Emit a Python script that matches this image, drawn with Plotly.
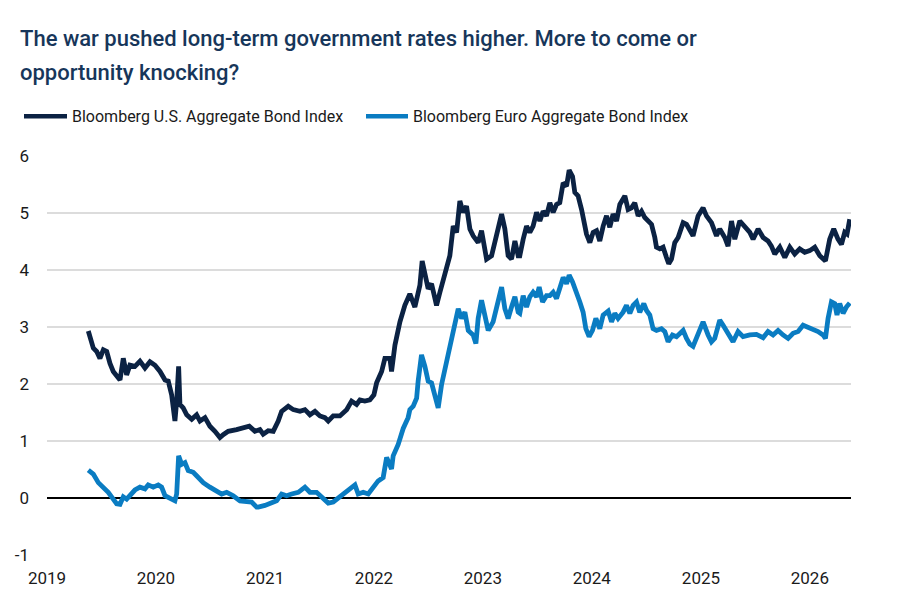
import pandas as pd
import plotly.graph_objects as go

# ---- data (decimal years, yield %) ----
us_t = [2019.379, 2019.410, 2019.425, 2019.456, 2019.486, 2019.517, 2019.548, 2019.578, 2019.608, 2019.670,
        2019.700, 2019.731, 2019.761, 2019.807, 2019.853, 2019.899, 2019.945, 2019.991, 2020.037, 2020.083,
        2020.113, 2020.144, 2020.174, 2020.190, 2020.208, 2020.220, 2020.250, 2020.282, 2020.328, 2020.373,
        2020.404, 2020.450, 2020.495, 2020.541, 2020.587, 2020.617, 2020.663, 2020.740, 2020.801, 2020.856,
        2020.908, 2020.954, 2020.984, 2021.030, 2021.076, 2021.122, 2021.153, 2021.214, 2021.260, 2021.321,
        2021.367, 2021.413, 2021.459, 2021.505, 2021.550, 2021.581, 2021.627, 2021.688, 2021.750, 2021.795,
        2021.841, 2021.872, 2021.917, 2021.963, 2022.000, 2022.025, 2022.071, 2022.101, 2022.147, 2022.162,
        2022.193, 2022.239, 2022.284, 2022.330, 2022.376, 2022.422, 2022.443, 2022.468, 2022.498, 2022.529,
        2022.575, 2022.606, 2022.651, 2022.697, 2022.728, 2022.759, 2022.789, 2022.819, 2022.850, 2022.881,
        2022.911, 2022.957, 2022.988, 2023.034, 2023.080, 2023.126, 2023.172, 2023.202, 2023.232, 2023.263,
        2023.294, 2023.324, 2023.339, 2023.370, 2023.401, 2023.431, 2023.461, 2023.493, 2023.523, 2023.553,
        2023.584, 2023.615, 2023.645, 2023.676, 2023.706, 2023.737, 2023.768, 2023.792, 2023.823, 2023.844,
        2023.874, 2023.906, 2023.936, 2023.951, 2023.982, 2024.012, 2024.043, 2024.073, 2024.104, 2024.135,
        2024.165, 2024.195, 2024.227, 2024.257, 2024.303, 2024.333, 2024.364, 2024.394, 2024.425, 2024.456,
        2024.486, 2024.517, 2024.548, 2024.578, 2024.593, 2024.624, 2024.654, 2024.685, 2024.706, 2024.731,
        2024.761, 2024.792, 2024.823, 2024.838, 2024.869, 2024.929, 2024.975, 2025.021, 2025.052, 2025.098,
        2025.144, 2025.174, 2025.220, 2025.250, 2025.282, 2025.312, 2025.358, 2025.404, 2025.450, 2025.480,
        2025.526, 2025.572, 2025.617, 2025.648, 2025.679, 2025.725, 2025.771, 2025.817, 2025.862, 2025.908,
        2025.954, 2026.000, 2026.046, 2026.092, 2026.144, 2026.183, 2026.220, 2026.259, 2026.291, 2026.321,
        2026.342, 2026.367]
us_v = [2.93, 2.74, 2.63, 2.57, 2.45, 2.60, 2.57, 2.36, 2.22, 2.07,
        2.45, 2.16, 2.33, 2.31, 2.40, 2.28, 2.39, 2.33, 2.22, 2.07,
        2.05, 1.81, 1.35, 1.70, 2.31, 1.64, 1.58, 1.46, 1.38, 1.46,
        1.35, 1.41, 1.26, 1.17, 1.06, 1.11, 1.17, 1.20, 1.23, 1.26,
        1.17, 1.20, 1.12, 1.18, 1.17, 1.35, 1.52, 1.61, 1.55, 1.52,
        1.55, 1.46, 1.52, 1.44, 1.41, 1.35, 1.44, 1.44, 1.55, 1.70,
        1.64, 1.72, 1.70, 1.72, 1.81, 2.02, 2.22, 2.45, 2.45, 2.22,
        2.68, 3.09, 3.38, 3.58, 3.35, 3.73, 4.16, 3.90, 3.67, 3.76,
        3.38, 3.61, 3.96, 4.25, 4.77, 4.66, 5.21, 5.01, 5.12, 4.72,
        4.60, 4.48, 4.69, 4.19, 4.25, 4.66, 4.98, 4.72, 4.25, 4.19,
        4.51, 4.25, 4.25, 4.54, 4.77, 4.66, 4.77, 5.01, 4.86, 5.03,
        4.95, 5.18, 5.01, 5.15, 5.18, 5.53, 5.47, 5.75, 5.64, 5.36,
        5.30, 5.06, 4.83, 4.63, 4.48, 4.66, 4.69, 4.51, 4.77, 4.95,
        4.75, 4.98, 4.86, 5.15, 5.30, 5.06, 5.09, 5.18, 4.95, 5.03,
        4.92, 4.86, 4.80, 4.57, 4.40, 4.37, 4.40, 4.22, 4.11, 4.19,
        4.48, 4.57, 4.77, 4.83, 4.80, 4.60, 4.95, 5.09, 4.95, 4.83,
        4.60, 4.72, 4.57, 4.42, 4.86, 4.54, 4.86, 4.77, 4.66, 4.54,
        4.72, 4.57, 4.51, 4.42, 4.28, 4.40, 4.22, 4.40, 4.28, 4.37,
        4.31, 4.34, 4.40, 4.25, 4.16, 4.54, 4.72, 4.54, 4.45, 4.66,
        4.63, 4.89]

eu_t = [2019.379, 2019.425, 2019.471, 2019.517, 2019.562, 2019.608, 2019.639, 2019.670, 2019.700, 2019.731,
        2019.761, 2019.807, 2019.853, 2019.899, 2019.929, 2019.975, 2020.021, 2020.052, 2020.083, 2020.128,
        2020.174, 2020.190, 2020.208, 2020.236, 2020.266, 2020.296, 2020.342, 2020.373, 2020.434, 2020.495,
        2020.557, 2020.603, 2020.649, 2020.709, 2020.771, 2020.832, 2020.878, 2020.924, 2020.939, 2021.000,
        2021.061, 2021.107, 2021.153, 2021.199, 2021.245, 2021.306, 2021.367, 2021.413, 2021.474, 2021.520,
        2021.581, 2021.627, 2021.672, 2021.734, 2021.780, 2021.826, 2021.856, 2021.902, 2021.948, 2021.994,
        2022.039, 2022.085, 2022.117, 2022.162, 2022.177, 2022.223, 2022.269, 2022.314, 2022.330, 2022.361,
        2022.392, 2022.406, 2022.437, 2022.468, 2022.498, 2022.529, 2022.560, 2022.590, 2022.621, 2022.667,
        2022.713, 2022.743, 2022.774, 2022.805, 2022.835, 2022.866, 2022.911, 2022.936, 2022.957, 2022.988,
        2023.018, 2023.049, 2023.094, 2023.140, 2023.172, 2023.202, 2023.232, 2023.263, 2023.294, 2023.324,
        2023.339, 2023.370, 2023.401, 2023.431, 2023.461, 2023.493, 2023.517, 2023.548, 2023.584, 2023.615,
        2023.645, 2023.676, 2023.706, 2023.737, 2023.768, 2023.792, 2023.823, 2023.860, 2023.890, 2023.920,
        2023.945, 2023.975, 2024.006, 2024.037, 2024.073, 2024.104, 2024.150, 2024.181, 2024.211, 2024.241,
        2024.287, 2024.318, 2024.349, 2024.379, 2024.410, 2024.440, 2024.477, 2024.502, 2024.532, 2024.562,
        2024.593, 2024.639, 2024.670, 2024.700, 2024.740, 2024.777, 2024.807, 2024.838, 2024.869, 2024.899,
        2024.929, 2024.975, 2025.021, 2025.067, 2025.098, 2025.128, 2025.174, 2025.205, 2025.250, 2025.296,
        2025.342, 2025.388, 2025.450, 2025.511, 2025.572, 2025.617, 2025.663, 2025.709, 2025.755, 2025.801,
        2025.847, 2025.893, 2025.939, 2025.985, 2026.031, 2026.076, 2026.122, 2026.144, 2026.168, 2026.199,
        2026.229, 2026.250, 2026.275, 2026.306, 2026.336, 2026.367]
eu_v = [0.49, 0.42, 0.27, 0.19, 0.10, -0.02, -0.10, -0.11, 0.02, -0.02,
        0.04, 0.14, 0.19, 0.16, 0.23, 0.19, 0.23, 0.19, 0.04, 0.00,
        -0.05, 0.07, 0.74, 0.59, 0.62, 0.48, 0.45, 0.39, 0.27, 0.19,
        0.13, 0.07, 0.10, 0.04, -0.05, -0.07, -0.07, -0.16, -0.16, -0.13,
        -0.09, -0.05, 0.07, 0.04, 0.07, 0.10, 0.19, 0.10, 0.10, 0.01,
        -0.09, -0.07, 0.00, 0.10, 0.16, 0.23, 0.07, 0.10, 0.07, 0.19,
        0.30, 0.36, 0.71, 0.51, 0.74, 0.94, 1.22, 1.41, 1.55, 1.61,
        1.75, 2.05, 2.51, 2.31, 2.05, 2.02, 1.75, 1.58, 1.99, 2.42,
        2.80, 3.06, 3.32, 3.15, 3.26, 2.94, 2.86, 2.71, 3.15, 3.47,
        3.21, 2.94, 3.09, 3.50, 3.70, 3.32, 3.15, 3.35, 3.53, 3.26,
        3.24, 3.55, 3.35, 3.53, 3.61, 3.53, 3.70, 3.44, 3.55, 3.55,
        3.61, 3.50, 3.70, 3.87, 3.76, 3.91, 3.79, 3.61, 3.44, 3.26,
        2.97, 2.83, 2.94, 3.15, 2.97, 3.21, 3.28, 3.09, 3.24, 3.15,
        3.26, 3.38, 3.24, 3.38, 3.44, 3.26, 3.41, 3.29, 3.21, 2.97,
        2.94, 2.97, 2.92, 2.74, 2.86, 2.83, 2.89, 2.94, 2.80, 2.70,
        2.66, 2.86, 3.09, 2.86, 2.74, 2.80, 3.12, 3.03, 2.89, 2.74,
        2.92, 2.83, 2.86, 2.87, 2.81, 2.92, 2.86, 2.94, 2.86, 2.80,
        2.89, 2.92, 3.03, 3.00, 2.97, 2.92, 2.86, 2.80, 3.15, 3.44,
        3.41, 3.21, 3.41, 3.24, 3.35, 3.42]

year_ticks = [2019, 2020, 2021, 2022, 2023, 2024, 2025, 2026]
y_ticks = [-1, 0, 1, 2, 3, 4, 5, 6]

series_names = ["Bloomberg U.S. Aggregate Bond Index", "Bloomberg Euro Aggregate Bond Index"]
colors = ["#0b2243", "#0a7cc2"]

title_lines = ["The war pushed long-term government rates higher. More to come or",
               "opportunity knocking?"]


def to_dates(ts):
    base = pd.Timestamp("2019-01-01")
    return [base + pd.to_timedelta((t - 2019) * 365.25, unit="D") for t in ts]


fig = go.Figure()
for name, t, v, c in [(series_names[0], us_t, us_v, colors[0]),
                      (series_names[1], eu_t, eu_v, colors[1])]:
    fig.add_trace(go.Scatter(x=to_dates(t), y=v, mode="lines", name=name,
                             line=dict(color=c, width=4.8), showlegend=False))

# plot area geometry (pixels)
L, R, T, B = 47, 49, 156, 42
W, H = 900, 600
pw, ph = W - L - R, H - T - B


def px_x(x):
    return (x - L) / pw


def px_y(y):
    return (H - B - y) / ph


FONT = "Roboto, Lato, sans-serif"

annotations = []
for i, (line, yy) in enumerate(zip(title_lines, [38, 72])):
    annotations.append(dict(text=line, x=px_x(18), y=px_y(yy), xref="paper", yref="paper",
                            xanchor="left", yanchor="middle", showarrow=False,
                            font=dict(family=FONT, size=22, color="#17365a", weight=500)))

# manual legend
leg = [(24, 67, 70), (366, 408, 411)]
shapes = []
for (x0, x1, xt), name, c in zip(leg, series_names, colors):
    shapes.append(dict(type="line", xref="paper", yref="paper", x0=px_x(x0), x1=px_x(x1),
                       y0=px_y(116), y1=px_y(116), line=dict(color=c, width=4.5)))
    annotations.append(dict(text=name, x=px_x(xt), y=px_y(116), xref="paper", yref="paper",
                            xanchor="left", yanchor="middle", showarrow=False,
                            font=dict(family=FONT, size=16, color="#1a1a1a")))

fig.update_layout(
    width=W, height=H,
    margin=dict(l=L, r=R, t=T, b=B),
    paper_bgcolor="white", plot_bgcolor="white",
    annotations=annotations, shapes=shapes,
    xaxis=dict(type="date", range=["2019-01-01", "2026-05-19"],
               tickvals=[pd.Timestamp(f"{y}-01-01") for y in year_ticks],
               ticktext=[str(y) for y in year_ticks],
               showgrid=False, zeroline=False, showline=False, ticks="",
               tickfont=dict(family="Roboto, Arial, sans-serif", size=17, color="#1a1a1a"),
               ticklabelstandoff=11),
    yaxis=dict(range=[-1, 6], tickvals=y_ticks, ticktext=[str(v) for v in y_ticks],
               showgrid=True, gridcolor="#dcdcdc", gridwidth=1.5,
               zeroline=True, zerolinecolor="#000000", zerolinewidth=2,
               showline=False, ticks="",
               tickfont=dict(family="Roboto, Arial, sans-serif", size=17, color="#1a1a1a"),
               ticklabelstandoff=17),
    showlegend=False,
)

fig.write_html("out.html")
